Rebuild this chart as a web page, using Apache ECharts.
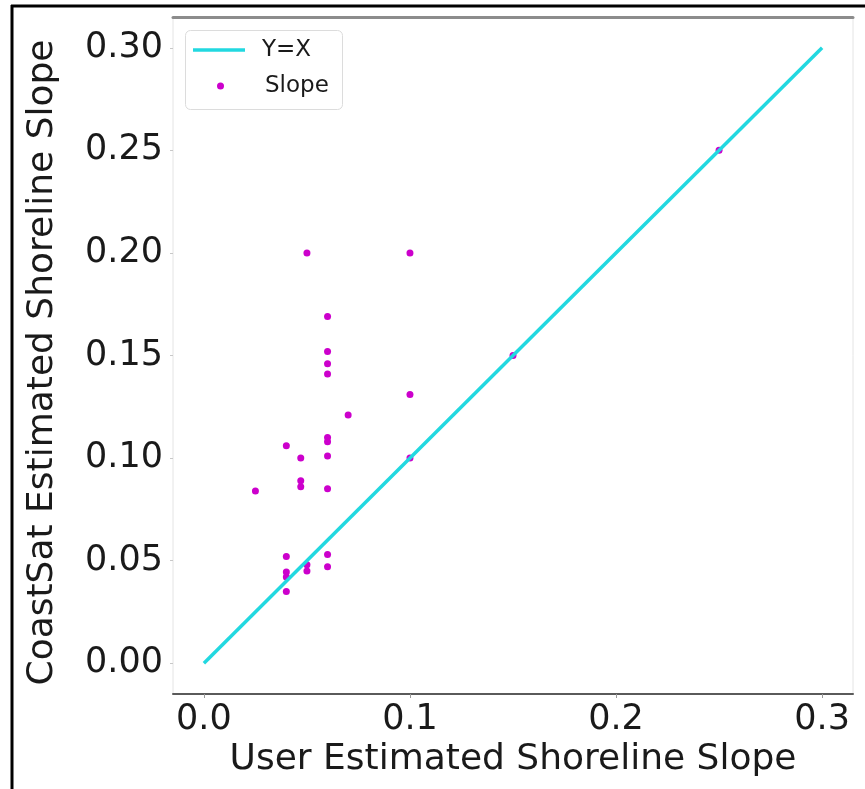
<!DOCTYPE html>
<html>
<head>
<meta charset="utf-8">
<script src="https://cdn.jsdelivr.net/npm/echarts@6/dist/echarts.min.js"></script>
<style>
  html, body { margin: 0; padding: 0; background: #fff; }
  #chart { width: 865px; height: 789px; }
</style>
</head>
<body>
<div id="chart"></div>
<script>
// Beach slope per site: user estimate (x) against CoastSat estimate (y)
const userSlope = [0.05, 0.10, 0.06, 0.06, 0.06, 0.06, 0.10, 0.07, 0.06, 0.06,
                   0.04, 0.06, 0.047, 0.047, 0.047, 0.025, 0.06, 0.10, 0.04, 0.06,
                   0.05, 0.05, 0.06, 0.04, 0.04, 0.04, 0.15, 0.25];
const coastsatSlope = [0.200, 0.200, 0.169, 0.152, 0.146, 0.141, 0.131, 0.121, 0.110, 0.108,
                       0.106, 0.101, 0.100, 0.089, 0.086, 0.084, 0.085, 0.100, 0.052, 0.053,
                       0.048, 0.045, 0.047, 0.0445, 0.042, 0.035, 0.15, 0.25];
// 1:1 reference line
const refLineX = [0, 0.3];
const refLineY = [0, 0.3];
// tick positions
const xTicks = [0, 0.1, 0.2, 0.3];
const yTicks = [0, 0.05, 0.10, 0.15, 0.20, 0.25, 0.30];

const FONT = 'DejaVu Sans';
const TEXT = '#1a1a1a';
const CYAN = '#22d8e0';
const MAGENTA = '#cc00cc';

const slopePoints = userSlope.map((x, i) => [x, coastsatSlope[i]]);
const refPoints = refLineX.map((x, i) => [x, refLineY[i]]);

const chart = echarts.init(document.getElementById('chart'), null, { renderer: 'canvas' });

chart.setOption({
  animation: false,
  backgroundColor: '#fff',
  grid: {
    left: 173, right: 12, top: 17, bottom: 95,
    show: true, borderColor: '#e4e4e4', borderWidth: 1, backgroundColor: '#fff'
  },
  xAxis: [
    {
      type: 'value', position: 'bottom', min: -0.015, max: 0.315,
      axisLine: { show: true, onZero: false, lineStyle: { color: '#5a5a5a', width: 2 } },
      axisTick: { show: true, customValues: xTicks, length: 4, lineStyle: { color: '#999' } },
      axisLabel: {
        customValues: xTicks, formatter: v => v.toFixed(1),
        fontFamily: FONT, fontSize: 35, color: TEXT, margin: 8
      },
      splitLine: { show: false },
      name: 'User Estimated Shoreline Slope', nameLocation: 'middle', nameGap: 42,
      nameTextStyle: { fontFamily: FONT, fontSize: 36, color: TEXT }
    },
    {
      type: 'value', position: 'top', min: -0.015, max: 0.315,
      axisLine: { show: true, onZero: false, lineStyle: { color: '#8c8c8c', width: 3 } },
      axisTick: { show: false }, axisLabel: { show: false }, splitLine: { show: false }
    }
  ],
  yAxis: {
    type: 'value', position: 'left', min: -0.015, max: 0.315,
    axisLine: { show: false, onZero: false },
    axisTick: { show: true, customValues: yTicks, length: 3, lineStyle: { color: '#c8c8c8' } },
    axisLabel: {
      customValues: yTicks, formatter: v => v.toFixed(2),
      fontFamily: FONT, fontSize: 35, color: TEXT, margin: 10
    },
    splitLine: { show: false },
    name: 'CoastSat Estimated Shoreline Slope', nameLocation: 'middle', nameGap: 112,
    nameTextStyle: { fontFamily: FONT, fontSize: 36, color: TEXT, padding: [0, 14, 0, 0] }
  },
  legend: [
    {
      data: ['Y=X'], left: 193, top: 37, padding: 0, selectedMode: false,
      icon: 'rect', itemWidth: 52, itemHeight: 3.5,
      textStyle: { fontFamily: FONT, fontSize: 23, color: TEXT, lineHeight: 26, padding: [0, 0, 0, 12] }
    },
    {
      data: ['Slope'], left: 217, top: 73, padding: 0, selectedMode: false,
      icon: 'circle', itemWidth: 7, itemHeight: 7,
      textStyle: { fontFamily: FONT, fontSize: 23, color: TEXT, lineHeight: 26, padding: [0, 0, 0, 36] }
    }
  ],
  graphic: [
    {
      type: 'rect', left: 185, top: 30, z: 0,
      shape: { width: 157, height: 79, r: 5 },
      style: { fill: 'rgba(255,255,255,0.8)', stroke: '#dcdcdc', lineWidth: 1 }
    },
    {
      type: 'line', z: 10,
      shape: { x1: 12, y1: 5, x2: 12, y2: 789 },
      style: { stroke: '#000', lineWidth: 3 }
    },
    {
      type: 'line', z: 10,
      shape: { x1: 11, y1: 6, x2: 865, y2: 6 },
      style: { stroke: '#000', lineWidth: 3 }
    }
  ],
  series: [
    {
      name: 'Slope', type: 'scatter', data: slopePoints,
      symbol: 'circle', symbolSize: 7, z: 2,
      itemStyle: { color: MAGENTA, opacity: 1 }
    },
    {
      name: 'Y=X', type: 'line', data: refPoints,
      symbol: 'none', z: 3,
      itemStyle: { color: CYAN },
      lineStyle: { color: CYAN, width: 3.5 }
    }
  ]
});
</script>
</body>
</html>
